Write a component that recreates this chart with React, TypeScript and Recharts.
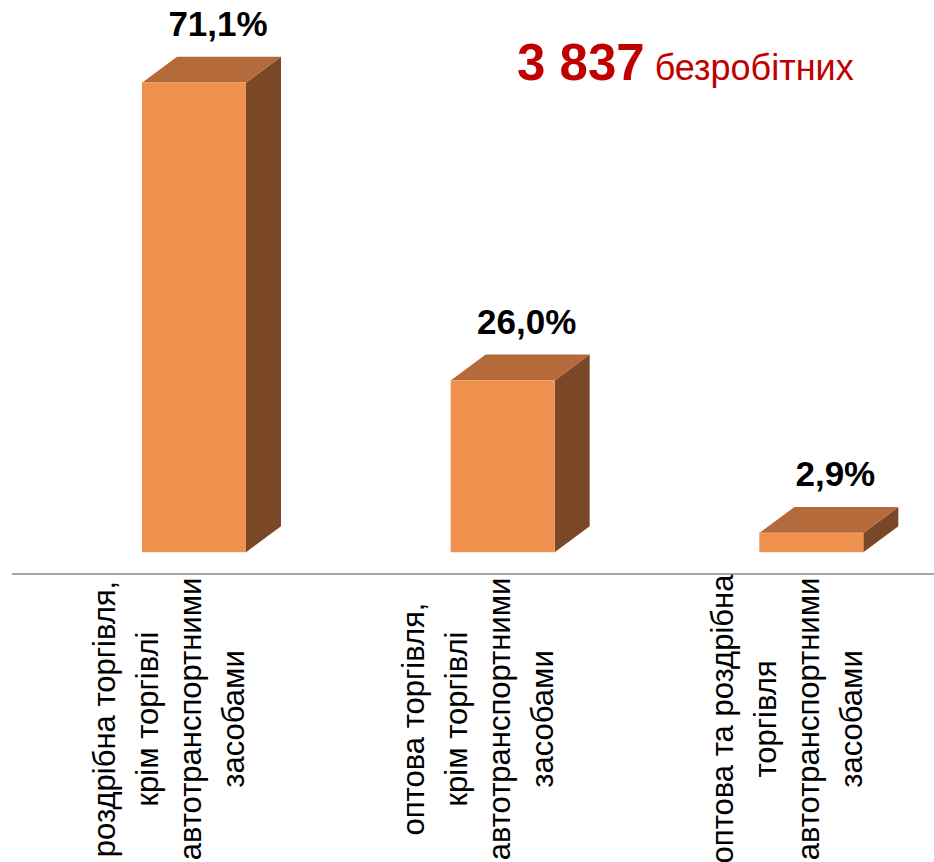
import { Bar, BarChart, LabelList, XAxis, YAxis } from "recharts";

const CATEGORIES = ["retail", "wholesale", "motor"];
const CATEGORY_LINES = [
  ["роздрібна торгівля,", "крім торгівлі", "автотранспортними", "засобами"],
  ["оптова торгівля,", "крім торгівлі", "автотранспортними", "засобами"],
  ["оптова та роздрібна", "торгівля", "автотранспортними", "засобами"],
];
const SHARES = [71.1, 26.0, 2.9];
const TOTAL_LABEL = "3 837";
const TOTAL_SUFFIX = "безробітних";

const FRONT = "#f0904f";
const TOP = "#b46a3b";
const SIDE = "#7a4826";
const AXIS = "#a6a6a6";
const RED = "#c00000";
const FONT = "'Liberation Sans', Arial, sans-serif";
const DX = 35; // 3D depth
const DY = 26;

const data = CATEGORIES.map((key, i) => ({ key, lines: CATEGORY_LINES[i], value: SHARES[i] }));

function Box3D(props: any) {
  const { x, y, width, height } = props;
  if (height == null || height <= 0) return null;
  const r = x + width;
  const b = y + height;
  return (
    <g>
      <polygon points={`${r},${y} ${r + DX},${y - DY} ${r + DX},${b - DY} ${r},${b}`} fill={SIDE} />
      <polygon points={`${x},${y} ${x + DX},${y - DY} ${r + DX},${y - DY} ${r},${y}`} fill={TOP} />
      <rect x={x} y={y} width={width} height={height} fill={FRONT} />
      <line x1={x} y1={y} x2={r} y2={y} stroke="#f4a56e" strokeWidth={1} />
    </g>
  );
}

function ValueLabel(props: any) {
  const { x, y, width, value } = props;
  return (
    <text
      x={x + width / 2 + 24}
      y={y - 47}
      textAnchor="middle"
      fontFamily={FONT}
      fontWeight={700}
      fontSize={35}
      fill="#000"
    >
      {`${Number(value).toFixed(1).replace(".", ",")}%`}
    </text>
  );
}

function CategoryTick(props: any) {
  const { x, index } = props;
  const lines: string[] = CATEGORY_LINES[index] ?? [];
  return (
    <g transform={`translate(${x},719)`}>
      <text transform="rotate(-90)" textAnchor="middle" fontFamily={FONT} fontSize={31} fill="#000">
        {lines.map((l, i) => (
          <tspan key={i} x={0} y={-14.5 + (i - 1.5) * 43}>
            {l}
          </tspan>
        ))}
      </text>
    </g>
  );
}

export default function App() {
  return (
    <div
      style={{
        position: "absolute",
        left: 0,
        top: 0,
        width: 934,
        height: 862,
        overflow: "hidden",
        background: "#fff",
      }}
    >
      <BarChart
        width={966}
        height={862}
        data={data}
        margin={{ top: 24, right: 0, bottom: 0, left: 12 }}
      >
        <XAxis
          dataKey="key"
          height={288}
          padding={{ left: 28, right: 0 }}
          axisLine={{ stroke: AXIS, strokeWidth: 2 }}
          tickLine={false}
          tick={<CategoryTick />}
          interval={0}
        />
        <YAxis hide domain={[-3.3, 80]} type="number" allowDataOverflow />
        <Bar dataKey="value" barSize={104} shape={<Box3D />} isAnimationActive={false}>
          <LabelList dataKey="value" content={<ValueLabel />} />
        </Bar>
      </BarChart>
      <div
        style={{
          position: "absolute",
          left: 517,
          top: 37,
          fontFamily: FONT,
          color: RED,
          whiteSpace: "nowrap",
          lineHeight: 1,
        }}
      >
        <span style={{ fontSize: 51, fontWeight: 700 }}>{TOTAL_LABEL}</span>
        <span style={{ fontSize: 36, marginLeft: 10 }}>{TOTAL_SUFFIX}</span>
      </div>
    </div>
  );
}
